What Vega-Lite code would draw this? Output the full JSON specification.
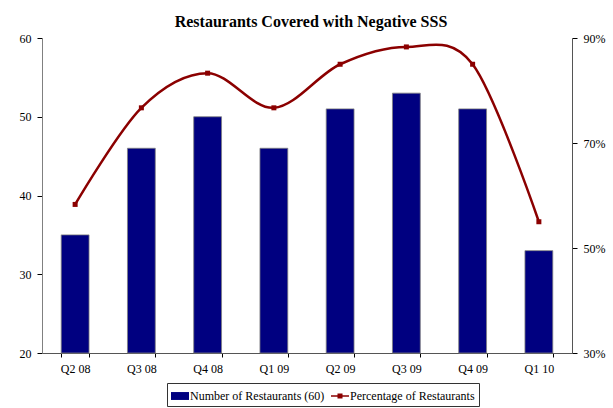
{
  "$schema": "https://vega.github.io/schema/vega-lite/v6.json",
  "width": 530,
  "height": 315,
  "autosize": {"type": "none"},
  "padding": {"left": 42, "top": 38, "right": 41, "bottom": 55},
  "background": "white",
  "title": {
    "text": "Restaurants Covered with Negative SSS",
    "font": "Liberation Serif",
    "fontSize": 16,
    "fontWeight": "bold",
    "color": "black",
    "anchor": "middle",
    "dx": 4,
    "offset": 2
  },
  "data": {
    "values": [
      {"quarter": "Q2 08", "count": 35, "pct": 0.583},
      {"quarter": "Q3 08", "count": 46, "pct": 0.767},
      {"quarter": "Q4 08", "count": 50, "pct": 0.833},
      {"quarter": "Q1 09", "count": 46, "pct": 0.767},
      {"quarter": "Q2 09", "count": 51, "pct": 0.85},
      {"quarter": "Q3 09", "count": 53, "pct": 0.883},
      {"quarter": "Q4 09", "count": 51, "pct": 0.85},
      {"quarter": "Q1 10", "count": 33, "pct": 0.55}
    ]
  },
  "encoding": {
    "x": {
      "field": "quarter",
      "type": "nominal",
      "sort": null,
      "scale": {"paddingInner": 0.58, "paddingOuter": 0.29},
      "axis": {
        "title": null,
        "labelAngle": 0,
        "labelFont": "Liberation Serif",
        "labelFontSize": 12,
        "labelColor": "black",
        "labelPadding": 6,
        "tickBand": "extent",
        "tickColor": "black",
        "tickSize": 4,
        "domainColor": "#555555",
        "ticks": true
      }
    }
  },
  "layer": [
    {
      "layer": [
        {
          "mark": {"type": "bar", "color": "#000080", "stroke": "#808080", "strokeWidth": 0.8},
          "encoding": {
            "y": {
              "field": "count",
              "type": "quantitative",
              "scale": {"domain": [20, 60], "zero": false, "nice": false},
              "axis": {
                "title": null,
                "values": [20, 30, 40, 50, 60],
                "grid": false,
                "labelFont": "Liberation Serif",
                "labelFontSize": 12,
                "labelColor": "black",
                "labelPadding": 6,
                "tickColor": "black",
                "tickSize": 5,
                "domainColor": "#808080"
              }
            },
            "y2": {"datum": 20}
          }
        },
        {
          "mark": {"type": "point", "opacity": 0, "filled": true},
          "encoding": {
            "y": {"field": "count", "type": "quantitative"},
            "color": {
              "datum": "Number of Restaurants (60)",
              "type": "nominal",
              "scale": {
                "domain": ["Number of Restaurants (60)", "Percentage of Restaurants"],
                "range": ["#000080", "#8B0000"]
              },
              "legend": {
                "title": null,
                "orient": "none",
                "legendX": 125,
                "legendY": 345,
                "direction": "horizontal",
                "strokeColor": "#333333",
                "padding": 4,
                "labelFont": "Liberation Serif",
                "labelFontSize": 12,
                "labelColor": "black",
                "labelOffset": 1,
                "columnPadding": 6,
                "symbolSize": 324,
                "symbolOpacity": 1,
                "symbolStrokeWidth": 0
              }
            },
            "shape": {
              "datum": "Number of Restaurants (60)",
              "type": "nominal",
              "scale": {
                "domain": ["Number of Restaurants (60)", "Percentage of Restaurants"],
                "range": ["M-1,-0.44H1V0.44H-1Z", "M-1,-0.09H1V0.09H-1Z M-0.28,-0.28H0.28V0.28H-0.28Z"]
              }
            }
          }
        }
      ]
    },
    {
      "layer": [
        {
          "mark": {
            "type": "line",
            "color": "#8B0000",
            "strokeWidth": 2.5,
            "interpolate": "cardinal",
            "point": {"shape": "square", "size": 25, "color": "#8B0000", "filled": true}
          },
          "encoding": {
            "y": {
              "field": "pct",
              "type": "quantitative",
              "scale": {"domain": [0.3, 0.9], "zero": false, "nice": false},
              "axis": {
                "title": null,
                "orient": "right",
                "format": ".0%",
                "values": [0.3, 0.5, 0.7, 0.9],
                "grid": false,
                "labelFont": "Liberation Serif",
                "labelFontSize": 12,
                "labelColor": "black",
                "labelPadding": 6,
                "tickColor": "black",
                "tickSize": 5,
                "domainColor": "#555555"
              }
            }
          }
        },
        {
          "mark": {"type": "point", "opacity": 0, "filled": true},
          "encoding": {
            "y": {"field": "pct", "type": "quantitative"},
            "color": {"datum": "Percentage of Restaurants", "type": "nominal"},
            "shape": {"datum": "Percentage of Restaurants", "type": "nominal"}
          }
        }
      ]
    }
  ],
  "resolve": {"scale": {"y": "independent", "color": "shared", "shape": "shared"}},
  "config": {
    "view": {"stroke": null}
  }
}
